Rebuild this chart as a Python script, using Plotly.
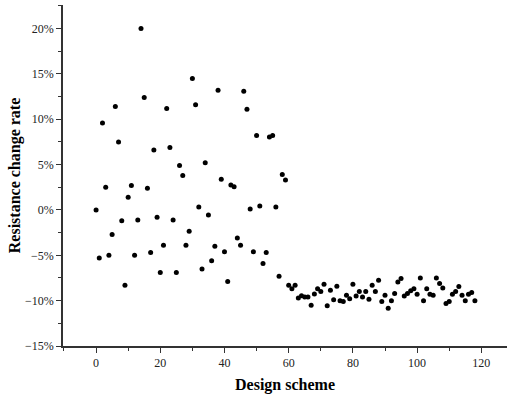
import plotly.graph_objects as go

scheme = list(range(0, 119))
change_rate = [
    0.0, -5.3, 9.6, 2.5, -5.0, -2.7, 11.4, 7.5, -1.2, -8.3,
    1.4, 2.7, -5.0, -1.1, 20.0, 12.4, 2.4, -4.7, 6.6, -0.8,
    -6.9, -3.9, 11.2, 6.9, -1.1, -6.9, 4.9, 3.8, -3.9, -2.35,
    14.5, 11.6, 0.33, -6.5, 5.2, -0.55, -5.6, -4.0, 13.2, 3.4,
    -4.6, -7.9, 2.76, 2.57, -3.1, -3.9, 13.1, 11.1, 0.1, -4.6,
    8.2, 0.44, -5.9, -4.7, 8.05, 8.2, 0.33, -7.3, 3.9, 3.3,
    -8.3, -8.7, -8.3, -9.7, -9.45, -9.6, -9.6, -10.5, -9.26, -8.7,
    -9.0, -8.2, -10.55, -8.85, -9.9, -8.4, -10.0, -10.1, -9.4, -9.8,
    -8.2, -9.5, -9.0, -9.6, -9.0, -9.85, -8.3, -9.0, -7.75, -10.1,
    -9.4, -10.85, -10.0, -9.2, -7.95, -7.55, -9.5, -9.2, -8.9, -8.7,
    -9.3, -7.5, -10.0, -8.7, -9.3, -9.4, -7.5, -8.1, -8.6, -10.3,
    -10.1, -9.3, -9.0, -8.45, -9.4, -10.0, -9.3, -9.1, -10.0,
]

x_ticks = [0, 20, 40, 60, 80, 100, 120]
y_ticks = [-15, -10, -5, 0, 5, 10, 15, 20]

font_family = "Liberation Serif"

fig = go.Figure(
    go.Scatter(
        x=scheme,
        y=change_rate,
        mode="markers",
        marker=dict(color="black", size=5),
        showlegend=False,
    )
)

fig.update_layout(
    width=509,
    height=396,
    margin=dict(l=63, r=2, t=5, b=50, autoexpand=False),
    plot_bgcolor="white",
    paper_bgcolor="white",
    font=dict(family=font_family, color="black", size=12),
)

fig.update_xaxes(
    range=[-10.3, 128],
    tickvals=x_ticks,
    ticks="outside",
    ticklen=5,
    tickwidth=1,
    tickcolor="#333",
    showline=True,
    linecolor="#333",
    linewidth=1.5,
    showgrid=False,
    zeroline=False,
    automargin=False,
    minor=dict(dtick=10, tick0=0, ticks="outside", ticklen=3, tickcolor="#333", showgrid=False),
    tickfont=dict(family=font_family, size=12, color="#222"),
    title=dict(text="<b>Design scheme</b>", font=dict(family=font_family, size=16, color="black"), standoff=10),
)

fig.update_yaxes(
    range=[-15, 22.6],
    tickvals=y_ticks,
    ticktext=[("\u2212" if v < 0 else "") + f"{abs(v)}%" for v in y_ticks],
    ticks="outside",
    ticklen=5,
    tickwidth=1,
    tickcolor="#333",
    showline=True,
    linecolor="#333",
    linewidth=1.5,
    showgrid=False,
    zeroline=False,
    automargin=False,
    minor=dict(dtick=2.5, tick0=0, ticks="outside", ticklen=3, tickcolor="#333", showgrid=False),
    tickfont=dict(family=font_family, size=12, color="#222"),
    title=dict(text="<b>Resistance change rate</b>", font=dict(family=font_family, size=16, color="black"), standoff=0),
)

fig.write_html(
    "out.html",
    config={"displayModeBar": False},
    post_script="document.body.style.margin='0';",
)
